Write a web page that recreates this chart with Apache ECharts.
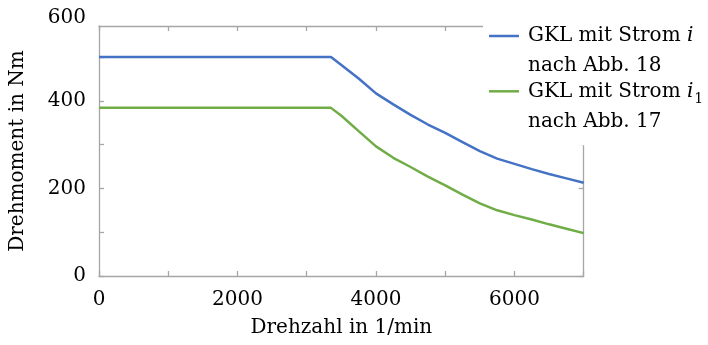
<!DOCTYPE html>
<html>
<head>
<meta charset="utf-8">
<style>
  html, body { margin: 0; padding: 0; background: #fff; }
  #chart { width: 708px; height: 345px; }
</style>
<script src="https://cdn.jsdelivr.net/npm/echarts@6/dist/echarts.min.js"></script>
</head>
<body>
<div id="chart"></div>
<script>
// Drehzahl (1/min)
const rpm = [0, 3350, 3500, 3750, 4000, 4250, 4500, 4750, 5000, 5250, 5500, 5750, 6000, 6250, 6500, 6750, 7000];
// Grenzkennlinie mit Strom i (Abb. 18), Nm
const torqueI = [500, 500, 482, 451, 417, 392, 368, 346, 327, 306, 285, 268, 256, 244, 233, 223, 213];
// Grenzkennlinie mit Strom i1 (Abb. 17), Nm
const torqueI1 = [384, 384, 366, 331, 296, 270, 249, 227, 207, 186, 166, 150, 139, 129, 118, 108, 98];

const seriesNames = ['GKL i', 'GKL i1'];
const legendLabels = [
  '{t|GKL mit Strom }{it|i}\n{t|nach Abb. 18}',
  '{t|GKL mit Strom }{it|i}{sub|1}\n{t|nach Abb. 17}'
];
const xTitle = 'Drehzahl in 1/min';
const yTitle = 'Drehmoment in Nm';
const yTopLabel = 600;

const FONT = 'DejaVu Serif';
const TEXT = '#000';
const AXIS = '#a6a6a6';
const BLUE = '#4472c4';
const GREEN = '#70ad47';

const pairs = (xs, ys) => xs.map((x, i) => [x, ys[i]]);

const chart = echarts.init(document.getElementById('chart'), null, { renderer: 'canvas' });

const axisLineStyle = { show: true, lineStyle: { color: AXIS, width: 1.3 } };
const tickStyle = { show: true, inside: true, length: 5, lineStyle: { color: AXIS, width: 1.3 } };

chart.setOption({
  animation: false,
  backgroundColor: '#fff',
  textStyle: { fontFamily: FONT },
  grid: { left: 98.5, right: 124.3, top: 26, bottom: 69 },
  xAxis: [
    {
      type: 'value', position: 'bottom', min: 0, max: 7000, interval: 1000,
      axisLine: { ...axisLineStyle, onZero: false },
      axisTick: tickStyle,
      splitLine: { show: false },
      axisLabel: {
        color: TEXT, fontFamily: FONT, fontSize: 20, margin: 14,
        formatter: v => (v % 2000 === 0 ? String(v) : '')
      },
      name: xTitle, nameLocation: 'middle', nameGap: 42,
      nameTextStyle: { color: TEXT, fontFamily: FONT, fontSize: 20 }
    },
    {
      type: 'value', position: 'top', min: 0, max: 7000, interval: 1000,
      axisLine: { ...axisLineStyle, onZero: false },
      axisTick: tickStyle,
      splitLine: { show: false },
      axisLabel: { show: false }
    }
  ],
  yAxis: [
    {
      type: 'value', position: 'left', min: 0, max: 571, interval: 100,
      axisLine: { ...axisLineStyle, onZero: false },
      axisTick: tickStyle,
      splitLine: { show: false },
      axisLabel: {
        color: TEXT, fontFamily: FONT, fontSize: 20, margin: 13,
        showMaxLabel: false,
        formatter: v => (v % 200 === 0 ? String(v) : '')
      },
      name: yTitle, nameLocation: 'middle', nameGap: 71, nameRotate: 90,
      nameTextStyle: { color: TEXT, fontFamily: FONT, fontSize: 20 }
    },
    {
      type: 'value', position: 'right', min: 0, max: 571, interval: 100,
      axisLine: { ...axisLineStyle, onZero: false },
      axisTick: tickStyle,
      splitLine: { show: false },
      axisLabel: { show: false }
    }
  ],
  legend: {
    orient: 'vertical',
    left: 483,
    top: -16,
    padding: [7, 4, 9, 6],
    itemGap: -34.7,
    icon: 'rect',
    itemWidth: 30,
    itemHeight: 2.5,
    backgroundColor: '#fff',
    data: seriesNames,
    formatter: name => legendLabels[seriesNames.indexOf(name)],
    textStyle: {
      color: TEXT,
      padding: [30, 0, 0, 4],
      lineHeight: 30,
      rich: {
        t: { fontFamily: FONT, fontSize: 20, color: TEXT, lineHeight: 30 },
        it: { fontFamily: FONT, fontStyle: 'italic', fontSize: 20, color: TEXT, lineHeight: 30 },
        sub: { fontFamily: FONT, fontSize: 14, color: TEXT, lineHeight: 30, verticalAlign: 'bottom', padding: [0, 0, 0, 1] }
      }
    }
  },
  series: [
    {
      name: seriesNames[0], type: 'line', xAxisIndex: 0, yAxisIndex: 0,
      data: pairs(rpm, torqueI),
      showSymbol: false, symbol: 'none',
      lineStyle: { color: BLUE, width: 2.5 },
      itemStyle: { color: BLUE }
    },
    {
      name: seriesNames[1], type: 'line', xAxisIndex: 0, yAxisIndex: 0,
      data: pairs(rpm, torqueI1),
      showSymbol: false, symbol: 'none',
      lineStyle: { color: GREEN, width: 2.5 },
      itemStyle: { color: GREEN }
    }
  ]
});

// Top tick label sits at its value position above the axis box
const yTop = chart.convertToPixel({ yAxisIndex: 0 }, yTopLabel);
const xLeft = chart.convertToPixel({ xAxisIndex: 0 }, 0);
chart.setOption({
  graphic: [{
    type: 'text',
    x: xLeft - 13,
    y: yTop + 4,
    style: {
      text: String(yTopLabel),
      fill: TEXT,
      font: '20px "' + FONT + '"',
      align: 'right',
      verticalAlign: 'middle'
    }
  }]
});
</script>
</body>
</html>
